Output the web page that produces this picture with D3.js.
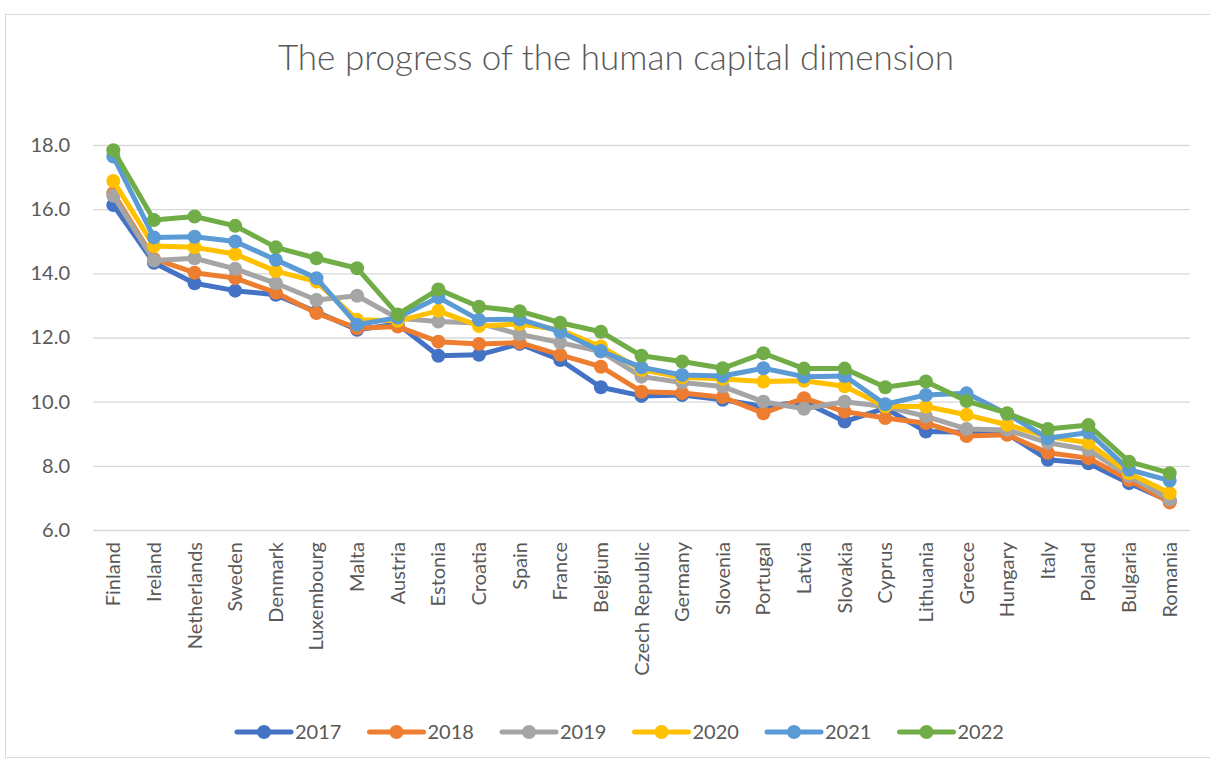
<!DOCTYPE html>
<html>
<head>
<meta charset="utf-8">
<script src="https://cdn.jsdelivr.net/npm/d3@7"></script>
<style>
  html, body { margin: 0; padding: 0; background: #fff; }
  svg { display: block; }
</style>
</head>
<body>
<div id="chart"></div>
<script>
/* Human capital dimension line chart */

const countries = ["Finland", "Ireland", "Netherlands", "Sweden", "Denmark", "Luxembourg", "Malta",
  "Austria", "Estonia", "Croatia", "Spain", "France", "Belgium", "Czech Republic", "Germany",
  "Slovenia", "Portugal", "Latvia", "Slovakia", "Cyprus", "Lithuania", "Greece", "Hungary",
  "Italy", "Poland", "Bulgaria", "Romania"];

const years = ["2017", "2018", "2019", "2020", "2021", "2022"];
const colors = ["#4472C4", "#ED7D31", "#A5A5A5", "#FFC000", "#5B9BD5", "#70AD47"];

const v2017 = [16.13, 14.33, 13.69, 13.46, 13.33, 12.80, 12.24, 12.42, 11.43, 11.46, 11.80, 11.30, 10.45,
  10.18, 10.21, 10.06, 9.85, 10.00, 9.38, 9.80, 9.07, 9.05, 9.00, 8.19, 8.08, 7.46, 6.90];
const v2018 = [16.50, 14.45, 14.02, 13.85, 13.40, 12.76, 12.29, 12.34, 11.87, 11.80, 11.84, 11.46, 11.09,
  10.31, 10.27, 10.14, 9.64, 10.11, 9.69, 9.49, 9.33, 8.93, 8.97, 8.41, 8.24, 7.56, 6.86];
const v2019 = [16.42, 14.40, 14.47, 14.14, 13.69, 13.17, 13.30, 12.60, 12.50, 12.45, 12.10, 11.84, 11.56,
  10.78, 10.60, 10.47, 10.00, 9.78, 10.00, 9.85, 9.54, 9.15, 9.12, 8.72, 8.50, 7.69, 6.95];
const v2020 = [16.88, 14.85, 14.81, 14.60, 14.07, 13.74, 12.55, 12.52, 12.83, 12.36, 12.42, 12.24, 11.72,
  10.99, 10.76, 10.71, 10.63, 10.65, 10.48, 9.85, 9.85, 9.59, 9.28, 8.91, 8.72, 7.77, 7.15];
const v2021 = [17.64, 15.12, 15.14, 14.99, 14.42, 13.85, 12.40, 12.62, 13.25, 12.55, 12.57, 12.18, 11.58,
  11.07, 10.83, 10.80, 11.04, 10.78, 10.80, 9.92, 10.21, 10.26, 9.62, 8.86, 9.04, 7.88, 7.54];
const v2022 = [17.84, 15.66, 15.77, 15.48, 14.81, 14.47, 14.16, 12.72, 13.50, 12.96, 12.82, 12.46, 12.18,
  11.43, 11.25, 11.04, 11.51, 11.03, 11.03, 10.45, 10.63, 10.02, 9.64, 9.15, 9.27, 8.13, 7.77];

const seriesValues = [v2017, v2018, v2019, v2020, v2021, v2022];
const yTicks = [6, 8, 10, 12, 14, 16, 18];

const width = 1210, height = 763;
const margin = { top: 145, right: 20, bottom: 233, left: 93 };

const svg = d3.select("#chart")
  .append("svg")
  .attr("width", width)
  .attr("height", height);

const font = "Lato, 'Open Sans', sans-serif";

// chart frame
svg.append("rect")
  .attr("x", 5.5).attr("y", 14.5)
  .attr("width", 1220).attr("height", 743)
  .attr("fill", "#fff")
  .attr("stroke", "#D9D9D9");

svg.append("text")
  .attr("x", 616)
  .attr("y", 70)
  .attr("text-anchor", "middle")
  .attr("font-family", font)
  .attr("font-weight", 300)
  .attr("font-size", 35)
  .attr("fill", "#595959")
  .text("The progress of the human capital dimension");

const x = d3.scaleBand()
  .domain(countries)
  .range([margin.left, width - margin.right]);

const y = d3.scaleLinear()
  .domain([6, 18])
  .range([height - margin.bottom, margin.top]);

// Grid lines + y labels
svg.append("g")
  .attr("transform", `translate(${margin.left}, 0)`)
  .call(d3.axisLeft(y).tickValues(yTicks).tickFormat(d3.format(".1f"))
    .tickSize(-(width - margin.left - margin.right)).tickPadding(23))
  .call(g => g.selectAll(".domain").remove())
  .call(g => g.selectAll("line").attr("stroke", "#D9D9D9").attr("stroke-width", 1.3))
  .call(g => g.selectAll("text").attr("fill", "#595959").attr("font-size", 20).attr("font-family", font));

// Category labels
svg.append("g")
  .attr("transform", `translate(0, ${height - margin.bottom})`)
  .call(d3.axisBottom(x).tickSize(0).tickPadding(0))
  .call(g => g.selectAll(".domain").remove())
  .call(g => g.selectAll("text")
    .attr("fill", "#595959")
    .attr("font-size", 20)
    .attr("font-family", font)
    .attr("text-anchor", "end")
    .attr("dy", "0.35em")
    .attr("transform", "translate(0, 12) rotate(-90)")
    .attr("x", 0).attr("y", 0));

const line = d3.line()
  .x((d, i) => x(countries[i]) + x.bandwidth() / 2)
  .y(d => y(d));

seriesValues.forEach((vals, s) => {
  const g = svg.append("g");
  g.append("path")
    .datum(vals)
    .attr("d", line)
    .attr("fill", "none")
    .attr("stroke", colors[s])
    .attr("stroke-width", 5)
    .attr("stroke-linejoin", "round")
    .attr("stroke-linecap", "round");
  g.selectAll("circle")
    .data(vals)
    .join("circle")
    .attr("cx", (d, i) => x(countries[i]) + x.bandwidth() / 2)
    .attr("cy", d => y(d))
    .attr("r", 7)
    .attr("fill", colors[s]);
});

// Legend
const legend = svg.append("g").attr("transform", "translate(237, 732)");
years.forEach((yr, i) => {
  const item = legend.append("g").attr("transform", `translate(${i * 132.5}, 0)`);
  item.append("line")
    .attr("x1", 0).attr("x2", 54)
    .attr("stroke", colors[i]).attr("stroke-width", 5)
    .attr("stroke-linecap", "round");
  item.append("circle").attr("cx", 27).attr("r", 7).attr("fill", colors[i]);
  item.append("text")
    .attr("x", 58).attr("y", 0).attr("dy", "0.35em")
    .attr("font-family", font).attr("font-size", 20).attr("fill", "#595959")
    .text(yr);
});
</script>
</body>
</html>
